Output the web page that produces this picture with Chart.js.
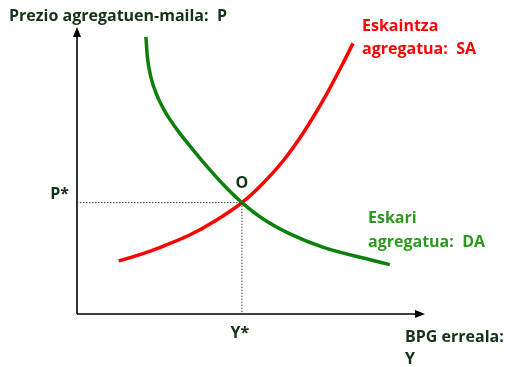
<!DOCTYPE html>
<html>
<head>
<meta charset="utf-8">
<script src="https://cdn.jsdelivr.net/npm/chart.js@4"></script>
<style>
html,body{margin:0;padding:0;background:#fff;}
#wrap{width:509px;height:367px;position:relative;}
</style>
</head>
<body>
<div id="wrap"><canvas id="c"></canvas></div>
<script>
// Data (axis units 0..100)
const equilibriumY = 47.4;   // Y*
const equilibriumP = 38.8;   // P*
const daX = [19.8, 20.2, 21.2, 22.9, 25.3, 28.6, 33.0, 37.7, 42.5, 47.4, 53.5, 61.2, 70.8, 84.2, 89.9];
const daY = [96.6, 89.8, 82.7, 76.4, 70.5, 64.5, 57.7, 50.9, 44.5, 38.8, 33.1, 27.9, 23.2, 18.9, 17.2];
const saX = [12.0, 18.1, 24.7, 32.5, 39.9, 47.4, 53.4, 59.2, 64.9, 70.7, 76.4, 79.3];
const saY = [18.5, 20.7, 23.6, 27.6, 32.6, 38.8, 45.5, 53.3, 62.9, 74.4, 87.3, 94.3];
const yAxisTitle = "Prezio agregatuen-maila:  P";
const xAxisTitle = ["BPG erreala:", "Y"];
const saLabel = ["Eskaintza", "agregatua:  SA"];
const daLabel = ["Eskari", "agregatua:  DA"];
const pStarLabel = "P*";
const yStarLabel = "Y*";
const pointLabel = "O";

const pts = (xs, ys) => xs.map((x, i) => ({x, y: ys[i]}));

const TEXT_DARK = '#143214';
const FONT = 'bold 16px "Open Sans", Lato, sans-serif';

const decor = {
  id: 'decor',
  beforeDatasetsDraw(chart) {
    const {ctx, scales: {x, y}} = chart;
    const x0 = x.getPixelForValue(0), y0 = y.getPixelForValue(0);
    const xEnd = x.getPixelForValue(100), yEnd = y.getPixelForValue(100);
    ctx.save();
    ctx.strokeStyle = '#000'; ctx.fillStyle = '#000'; ctx.lineWidth = 1.6;
    ctx.beginPath(); ctx.moveTo(x0, y0); ctx.lineTo(xEnd - 6, y0); ctx.stroke();
    ctx.beginPath(); ctx.moveTo(x0, y0); ctx.lineTo(x0, yEnd + 6); ctx.stroke();
    ctx.beginPath(); ctx.moveTo(xEnd, y0); ctx.lineTo(xEnd - 10, y0 - 4); ctx.lineTo(xEnd - 10, y0 + 4); ctx.closePath(); ctx.fill();
    ctx.beginPath(); ctx.moveTo(x0, yEnd); ctx.lineTo(x0 - 4, yEnd + 10); ctx.lineTo(x0 + 4, yEnd + 10); ctx.closePath(); ctx.fill();
    ctx.restore();
  },
  afterDatasetsDraw(chart) {
    const {ctx, scales: {x, y}} = chart;
    const ex = x.getPixelForValue(equilibriumY), ey = y.getPixelForValue(equilibriumP);
    const x0 = x.getPixelForValue(0), y0 = y.getPixelForValue(0);
    ctx.save();
    ctx.font = FONT;
    ctx.textBaseline = 'alphabetic';
    ctx.fillStyle = TEXT_DARK;
    ctx.textAlign = 'left';
    ctx.fillText(yAxisTitle, 9, 21);
    ctx.fillText(xAxisTitle[0], 405, 342);
    ctx.fillText(xAxisTitle[1], 405, 364);
    ctx.textAlign = 'right';
    ctx.fillText(pStarLabel, x0 - 8, ey - 4);
    ctx.textAlign = 'center';
    ctx.fillText(yStarLabel, ex - 2, y0 + 24);
    ctx.fillText(pointLabel, ex, ey - 15);
    ctx.textAlign = 'left';
    ctx.fillStyle = '#ff0000';
    ctx.fillText(saLabel[0], 362, 31);
    ctx.fillText(saLabel[1], 362, 54);
    ctx.fillStyle = '#2a9a1e';
    ctx.fillText(daLabel[0], 368, 223);
    ctx.fillText(daLabel[1], 368, 247);
    ctx.restore();
  }
};

new Chart(document.getElementById('c'), {
  type: 'scatter',
  data: {
    datasets: [
      {data: [{x: 0, y: equilibriumP}, {x: equilibriumY, y: equilibriumP}], showLine: true, borderColor: '#444', borderWidth: 1, borderDash: [1.5, 1.5], pointRadius: 0},
      {data: [{x: equilibriumY, y: equilibriumP}, {x: equilibriumY, y: 0}], showLine: true, borderColor: '#444', borderWidth: 1, borderDash: [1.5, 1.5], pointRadius: 0},
      {data: pts(daX, daY), showLine: true, borderColor: '#0b800b', borderWidth: 3.5, cubicInterpolationMode: 'monotone', pointRadius: 0, borderCapStyle: 'butt'},
      {data: pts(saX, saY), showLine: true, borderColor: '#ff0000', borderWidth: 3.5, cubicInterpolationMode: 'monotone', pointRadius: 0, borderCapStyle: 'butt'}
    ]
  },
  options: {
    responsive: true,
    maintainAspectRatio: false,
    animation: false,
    layout: {padding: {left: 77, right: 84, top: 27, bottom: 53}},
    plugins: {legend: {display: false}, tooltip: {enabled: false}},
    scales: {
      x: {type: 'linear', min: 0, max: 100, display: false},
      y: {type: 'linear', min: 0, max: 100, display: false}
    }
  },
  plugins: [decor]
});
</script>
</body>
</html>
